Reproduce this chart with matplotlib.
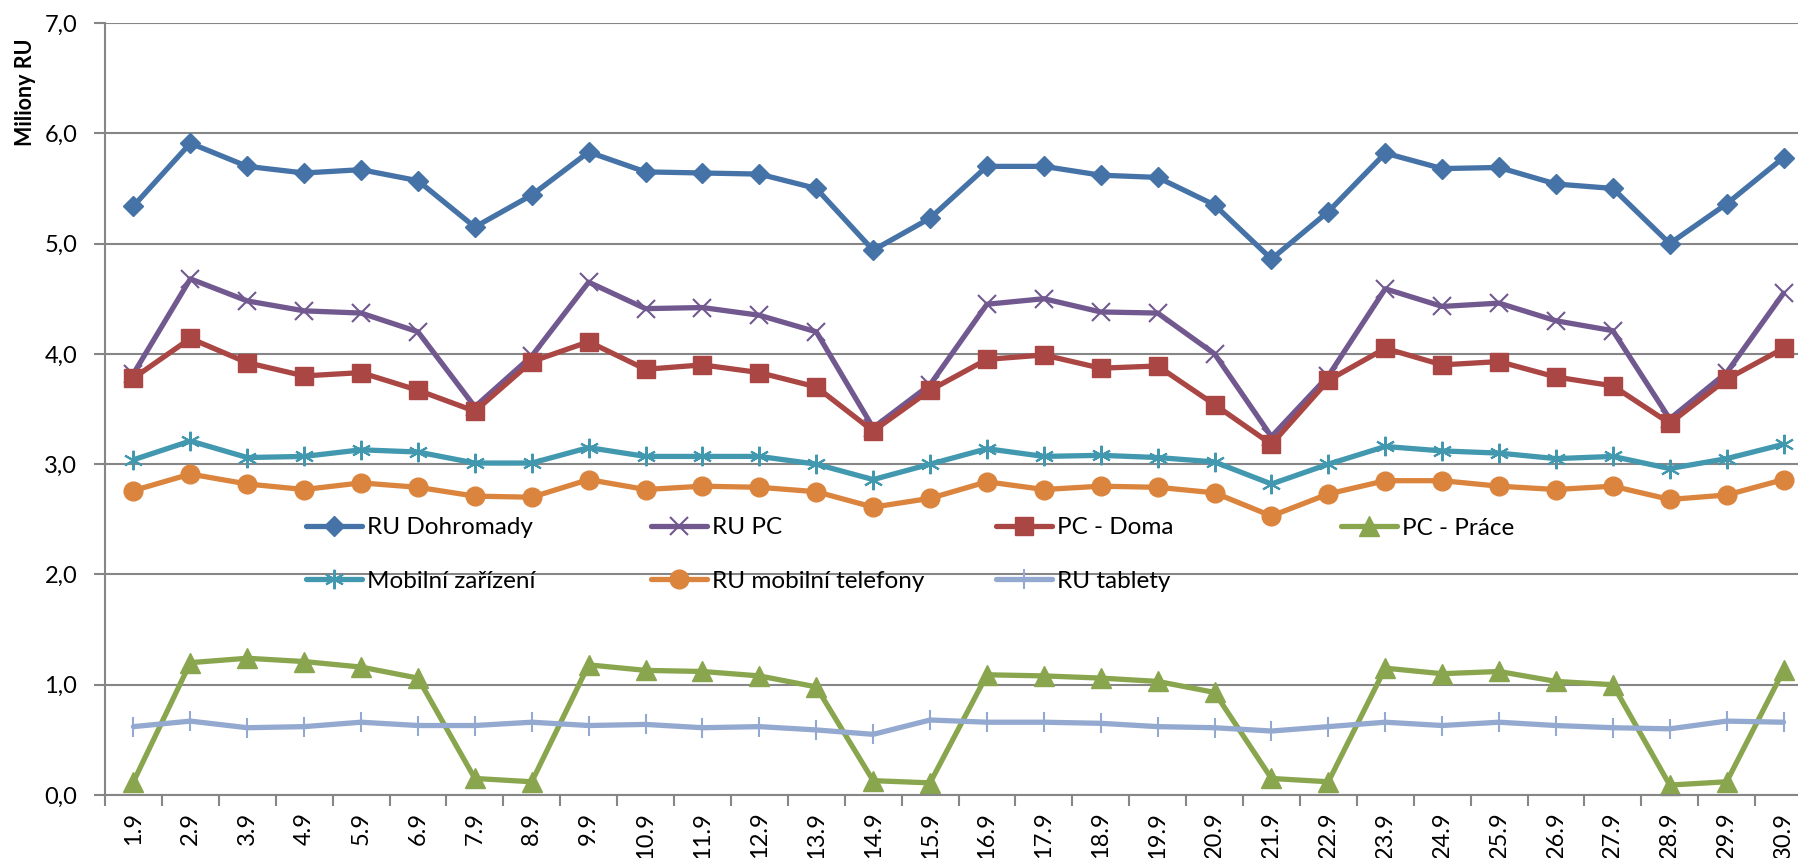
import numpy as np
import matplotlib
matplotlib.use("Agg")
import matplotlib.pyplot as plt
from matplotlib.ticker import FuncFormatter, FixedLocator

plt.rcParams['font.family'] = ['Lato', 'DejaVu Sans']

# --- data (millions RU, 1.9 .. 30.9) ---
days = [f"{d}.9" for d in range(1, 31)]

ru_dohromady = [5.34, 5.91, 5.70, 5.64, 5.67, 5.57, 5.15, 5.44, 5.83, 5.65,
                5.64, 5.63, 5.50, 4.94, 5.23, 5.70, 5.70, 5.62, 5.60, 5.35,
                4.86, 5.29, 5.82, 5.68, 5.69, 5.54, 5.50, 5.00, 5.36, 5.78]
ru_pc = [3.82, 4.68, 4.48, 4.39, 4.37, 4.20, 3.52, 3.98, 4.65, 4.41,
         4.42, 4.35, 4.20, 3.33, 3.72, 4.45, 4.50, 4.38, 4.37, 4.00,
         3.25, 3.80, 4.59, 4.43, 4.46, 4.30, 4.21, 3.41, 3.83, 4.55]
pc_doma = [3.78, 4.14, 3.92, 3.80, 3.83, 3.67, 3.48, 3.93, 4.11, 3.86,
           3.90, 3.83, 3.70, 3.30, 3.67, 3.95, 3.99, 3.87, 3.89, 3.54,
           3.18, 3.76, 4.05, 3.90, 3.93, 3.79, 3.71, 3.37, 3.77, 4.05]
pc_prace = [0.12, 1.20, 1.24, 1.21, 1.16, 1.06, 0.15, 0.12, 1.18, 1.13,
            1.12, 1.08, 0.98, 0.13, 0.11, 1.09, 1.08, 1.06, 1.03, 0.93,
            0.15, 0.12, 1.15, 1.10, 1.12, 1.03, 1.00, 0.09, 0.12, 1.13]
mobilni = [3.04, 3.21, 3.06, 3.07, 3.13, 3.11, 3.01, 3.01, 3.15, 3.07,
           3.07, 3.07, 3.00, 2.86, 3.00, 3.14, 3.07, 3.08, 3.06, 3.02,
           2.82, 3.00, 3.16, 3.12, 3.10, 3.05, 3.07, 2.96, 3.05, 3.18]
telefony = [2.76, 2.91, 2.82, 2.77, 2.83, 2.79, 2.71, 2.70, 2.86, 2.77,
            2.80, 2.79, 2.75, 2.61, 2.69, 2.84, 2.77, 2.80, 2.79, 2.74,
            2.53, 2.73, 2.85, 2.85, 2.80, 2.77, 2.80, 2.68, 2.72, 2.86]
tablety = [0.62, 0.67, 0.61, 0.62, 0.66, 0.63, 0.63, 0.66, 0.63, 0.64,
           0.61, 0.62, 0.59, 0.55, 0.68, 0.66, 0.66, 0.65, 0.62, 0.61,
           0.58, 0.62, 0.66, 0.63, 0.66, 0.63, 0.61, 0.60, 0.67, 0.66]

series = [
    ("RU Dohromady", ru_dohromady, "#4572A7", "D", 10.5),
    ("RU PC", ru_pc, "#71588F", "x", 13),
    ("PC - Doma", pc_doma, "#AA4643", "s", 13),
    ("PC - Práce", pc_prace, "#89A54E", "^", 14),
    ("Mobilní zařízení", mobilni, "#4198AF", (6, 2, 0), 14),
    ("RU mobilní telefony", telefony, "#DB843D", "o", 13.5),
    ("RU tablety", tablety, "#93A9CF", "|", 14),
]

W, H = 1798, 858
fig = plt.figure(figsize=(W / 100, H / 100), dpi=100)
# plot area runs past the right edge of the picture, as in the reference
ax = fig.add_axes([105 / W, 63 / H, 1707 / W, 772 / H])

x = np.arange(len(days))
handles = []
for name, vals, col, mk, ms in series:
    thin = mk in ("x", "|") or isinstance(mk, tuple)
    h, = ax.plot(x, vals, color=col, lw=3.8, marker=mk, ms=ms,
                 mfc=col, mec=col, mew=1.5 if thin else 1, label=name,
                 solid_capstyle='round', solid_joinstyle='round', clip_on=False)
    handles.append(h)

grey = "#868686"
ax.set_xlim(-0.5, len(days) - 0.5)
ax.set_ylim(0, 7)
ax.set_yticks(np.arange(0, 8, 1))
ax.yaxis.set_major_formatter(FuncFormatter(lambda v, p: f"{v:.1f}".replace(".", ",")))
ax.set_xticks(x)
ax.set_xticklabels(days, rotation=90)
ax.xaxis.set_minor_locator(FixedLocator(np.arange(-0.5, len(days), 1)))
ax.tick_params(axis='x', which='major', length=0, pad=12, labelsize=17)
ax.tick_params(axis='x', which='minor', length=8, width=1.5, color=grey, direction='out')
ax.tick_params(axis='y', length=8, width=1.5, color=grey, pad=12, labelsize=17)
ax.grid(axis='y', color=grey, lw=1.5)
ax.set_axisbelow(True)
for s in ("top", "right"):
    ax.spines[s].set_visible(False)
for s in ("left", "bottom"):
    ax.spines[s].set_color(grey)
    ax.spines[s].set_linewidth(1.5)

fig.text(25 / W, 1 - 92 / H, "Miliony RU", rotation=90, fontsize=15.5,
         fontweight='bold', ha='center', va='center')

# legend: four equal-width columns, two rows
cols = [[0, 4], [1, 5], [2, 6], [3]]
col_x = [306, 651, 996, 1341]
for i, (idx, cx) in enumerate(zip(cols, col_x)):
    cy = 554.5 if len(idx) == 2 else 528
    leg = ax.legend([handles[j] for j in idx], [series[j][0] for j in idx],
                    loc='center left', bbox_to_anchor=(cx / W, 1 - cy / H),
                    bbox_transform=fig.transFigure, frameon=False,
                    fontsize=17.5, handlelength=2.3, handletextpad=0.2,
                    labelspacing=1.33, borderpad=0, borderaxespad=0)
    if i < len(cols) - 1:
        ax.add_artist(leg)

fig.savefig("out.png", dpi=100)
